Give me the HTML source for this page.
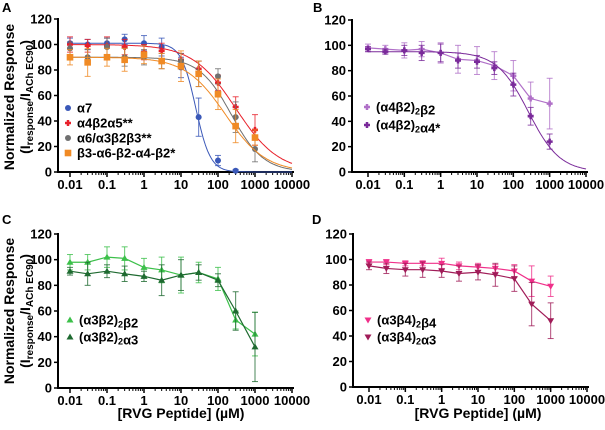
<!DOCTYPE html>
<html><head><meta charset="utf-8"><style>
body{margin:0;background:#fff;width:605px;height:425px;overflow:hidden}
svg{font-family:"Liberation Sans",Arial,sans-serif;font-weight:bold}
</style></head><body>
<svg id="c" width="605" height="425"></svg>
<script>
const xs=[0.01,0.03,0.1,0.3,1,3,10,30,100,300,1000];
const a7=[101,100,101,104,101,98,82,43,9,1,null];
const a7e=[4,4,4,4,6,7,8,15,4,1,null];
const a4b2a5=[100,99,99,98,94,95,88,81,70,51,33];
const a4b2a5e=[6,5,7,6,6,6,5,6,6,8,12];
const a6=[97,90,98,90,90,87,87,77,75,43,18];
const a6e=[5,6,7,7,6,6,6,10,6,12,10];
const b3=[90,86,90,88,92,87,83,77,61,36,27];
const b3e=[6,11,7,9,7,6,12,10,12,13,6];
const b2light=[98,97,96,97,94,89,88,84,76,58,54];
const b2lighte=[3,3,6,6,8,11,11,11,12,13,20];
const b2dark=[97,95,96,94,94,88,87,82,69,44,24];
const b2darke=[2,2,4,6,7,6,5,5,9,7,6];
const c1=[98,98,102,101,94,92,88,90,85,53,42];
const c1e=[6,6,8,9,7,10,14,8,9,7,17];
const c2=[91,89,91,89,87,84,88,90,84,60,32];
const c2e=[3,9,5,6,4,12,12,6,5,15,27];
const d1=[98,98,97,97,97,95,94,93,91,83,79];
const d1e=[2,2,2,2,4,3,3,3,5,12,8];
const d2=[95,93,92,92,91,89,90,88,85,65,52];
const d2e=[3,4,5,6,5,6,6,9,10,17,14];
// Hill fits: top, IC50, slope
const fitTop=[101,100,90,90,95];
const fitIC=[25,300,230,160,260];
const fitN=[2.2,0.75,1.0,0.8,1.0];
const yTicks=[0,20,40,60,80,100,120];
const xTicks=["0.01","0.1","1","10","100","1000","10000"];
const svg=document.getElementById('c');const NS='http://www.w3.org/2000/svg';
function el(t,a,p){const e=document.createElementNS(NS,t);for(const k in a)e.setAttribute(k,a[k]);(p||svg).appendChild(e);return e;}
function panel(P){
  const g=el('g',{});
  
  
  const X=v=>P.x0+(Math.log10(v)+2)*(P.x1-P.x0)/6;
  const Y=v=>P.y0-v*(P.y0-P.y1)/120;
  const ax=P.ax;
  el('line',{x1:ax,y1:P.y1-1,x2:ax,y2:P.y0+1,stroke:'#000','stroke-width':2},g);
  el('line',{x1:ax-1,y1:P.y0,x2:P.x1+2,y2:P.y0,stroke:'#000','stroke-width':2},g);
  for(const t of yTicks){el('line',{x1:ax-4,y1:Y(t),x2:ax,y2:Y(t),stroke:'#000','stroke-width':1.5},g);
    const tx=el('text',{x:ax-6,y:Y(t)+4.5,'text-anchor':'end','font-size':13},g);tx.textContent=t;
    }
  for(let i=0;i<xTicks.length;i++){const v=Math.pow(10,i-2);
    el('line',{x1:X(v),y1:P.y0,x2:X(v),y2:P.y0+5,stroke:'#000','stroke-width':1.5},g);
    if(i<6)for(let m=2;m<10;m++)el('line',{x1:X(v*m),y1:P.y0,x2:X(v*m),y2:P.y0+3,stroke:'#000','stroke-width':1},g);
    const tx=el('text',{x:X(v),y:P.y0+17,'text-anchor':'middle','font-size':13},g);tx.textContent=xTicks[i];
    }
  const lt=el('text',{x:P.lx,y:P.ly,'font-size':13},g);lt.textContent=P.id;
  
  P.series.forEach((s,si)=>{
    const sg=el('g',{},g);
    
    
    if(s.fit!=null){let d='';for(let k=0;k<=200;k++){const lv=-2+6*k/200,v=Math.pow(10,lv);
      const y=fitTop[s.fit]/(1+Math.pow(v/fitIC[s.fit],fitN[s.fit]));d+=(k?'L':'M')+X(v).toFixed(1)+' '+Y(y).toFixed(1);}
      el('path',{d:d,fill:'none',stroke:s.c,'stroke-width':1},sg);}
    else{let d='';s.v.forEach((v,i)=>{if(v!=null)d+=(d?'L':'M')+X(xs[i])+' '+Y(v);});el('path',{d:d,fill:'none',stroke:s.c,'stroke-width':1.2},sg);}
    s.v.forEach((v,i)=>{if(v==null)return;const x=X(xs[i]),e=s.e[i];
      el('line',{x1:x,y1:Y(v-e),x2:x,y2:Y(v+e),stroke:s.c,'stroke-width':1,opacity:0.8},sg);
      el('line',{x1:x-3,y1:Y(v-e),x2:x+3,y2:Y(v-e),stroke:s.c,'stroke-width':1,opacity:0.8},sg);
      el('line',{x1:x-3,y1:Y(v+e),x2:x+3,y2:Y(v+e),stroke:s.c,'stroke-width':1,opacity:0.8},sg);
      marker(sg,s.m,x,Y(v),s.c);});
    const ly=P.legY+si*P.legDy;
    marker(sg,s.m,P.legX,ly,s.c);
    const t=el('text',{x:P.legX+9,y:ly+4.5,'font-size':13},sg);t.innerHTML=s.label;
    
  });
}
function marker(g,m,x,y,c){
  if(m=='o')el('circle',{cx:x,cy:y,r:3,fill:c},g);
  else if(m=='s')el('rect',{x:x-3.3,y:y-3.3,width:6.6,height:6.6,fill:c},g);
  else if(m=='t')el('path',{d:`M${x} ${y-3.5}L${x+3.5} ${y+2.5}L${x-3.5} ${y+2.5}Z`,fill:c},g);
  else if(m=='v')el('path',{d:`M${x} ${y+3.5}L${x+3.5} ${y-2.5}L${x-3.5} ${y-2.5}Z`,fill:c},g);
  else if(m=='p')el('path',{d:`M${x-3} ${y}L${x+3} ${y}M${x} ${y-3}L${x} ${y+3}`,stroke:c,'stroke-width':2.5},g);
}
const sub=s=>`<tspan font-size="9" dy="3">${s}</tspan><tspan dy="-3"></tspan>`;
panel({id:'A',ax:58,x0:70,x1:292,y0:172,y1:19,lx:2,ly:12,legX:68,legY:108,legDy:15,series:[
 {name:'a7',v:a7,e:a7e,c:'#3a58b8',m:'o',fit:0,label:'α7'},
 {name:'a4b2a5',v:a4b2a5,e:a4b2a5e,c:'#e8202a',m:'p',fit:1,label:'α4β2α5**'},
 {name:'a6',v:a6,e:a6e,c:'#707070',m:'o',fit:2,label:'α6/α3β2β3**'},
 {name:'b3',v:b3,e:b3e,c:'#f08a24',m:'s',fit:3,label:'β3-α6-β2-α4-β2*'}]});
panel({id:'B',ax:352,x0:368,x1:586,y0:172,y1:20,lx:313,ly:12,legX:367,legY:107,legDy:18,series:[
 {name:'a4b2-b2',v:b2light,e:b2lighte,c:'#b070c8',m:'p',fit:null,label:'(α4β2)'+sub('2')+'β2'},
 {name:'a4b2-a4',v:b2dark,e:b2darke,c:'#7a2a9a',m:'p',fit:4,label:'(α4β2)'+sub('2')+'α4*'}]});
panel({id:'C',ax:58,x0:70,x1:292,y0:388,y1:234,lx:2,ly:224,legX:70,legY:320,legDy:17,series:[
 {name:'a3b2-b2',v:c1,e:c1e,c:'#3cc04a',m:'t',fit:null,label:'(α3β2)'+sub('2')+'β2'},
 {name:'a3b2-a3',v:c2,e:c2e,c:'#1e6a30',m:'t',fit:null,label:'(α3β2)'+sub('2')+'α3'}]});
panel({id:'D',ax:353,x0:369,x1:587,y0:387,y1:234,lx:312,ly:224,legX:368,legY:320,legDy:17,series:[
 {name:'a3b4-b4',v:d1,e:d1e,c:'#f0308a',m:'v',fit:null,label:'(α3β4)'+sub('2')+'β4'},
 {name:'a3b4-a3',v:d2,e:d2e,c:'#a01c58',m:'v',fit:null,label:'(α3β4)'+sub('2')+'α3'}]});
function ylab(cy,id){const g=el('g',{transform:`translate(14,${cy}) rotate(-90)`});
 
 const t=el('text',{x:0,y:0,'text-anchor':'middle','font-size':14},g);t.textContent='Normalized Response';
 const t2=el('text',{x:0,y:16,'text-anchor':'middle','font-size':14},g);
 t2.innerHTML='(I<tspan font-size="10" dy="3">response</tspan><tspan dy="-3">/I</tspan><tspan font-size="10" dy="3">ACh EC90</tspan><tspan dy="-3">)</tspan>';}
ylab(97,'a');ylab(311,'c');
function xlab(cx,id){const t=el('text',{x:cx,y:418,'text-anchor':'middle','font-size':14});t.textContent='[RVG Peptide] (µM)';
 }
xlab(181,'c');xlab(478,'d');
</script></body></html>
